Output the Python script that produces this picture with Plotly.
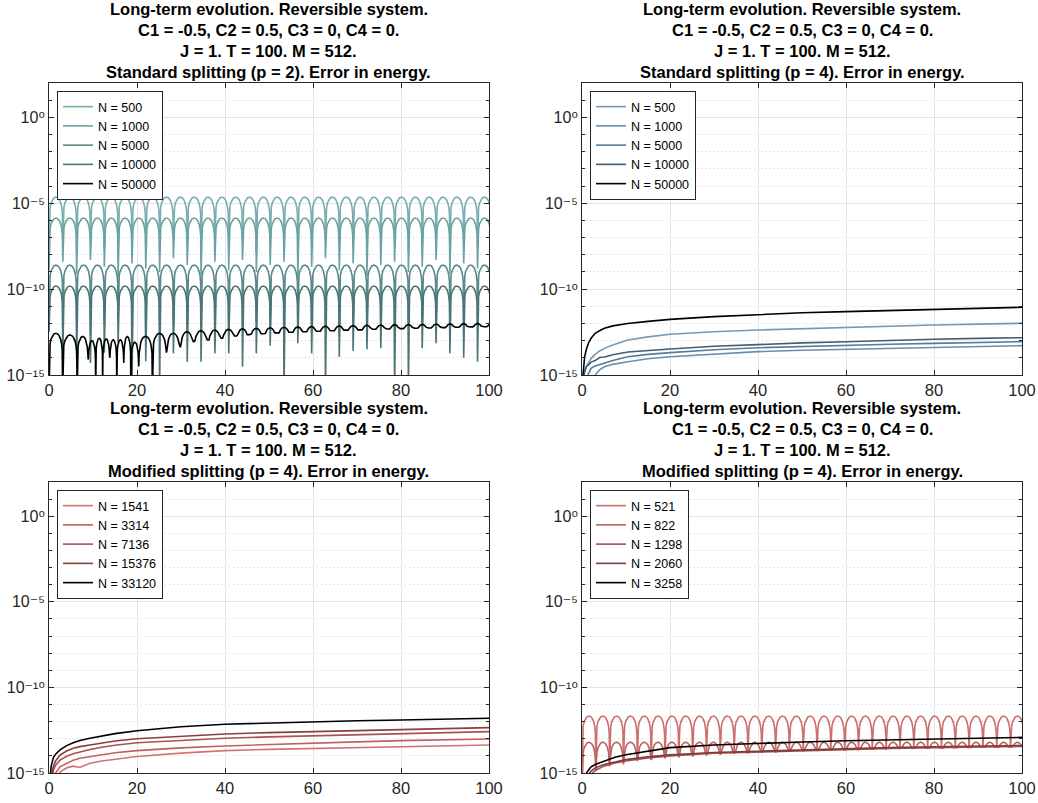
import plotly.graph_objects as go

# ------------------------------------------------------------------ data
# times of the (near-zero) troughs of the oscillating error curves
TROUGH_T = [0.00, 3.14, 6.28, 9.42, 12.57, 15.71, 18.85, 21.99, 25.13, 28.27,
            31.42, 34.56, 37.70, 40.84, 43.98, 47.12, 50.27, 53.41, 56.55, 59.69,
            62.83, 65.97, 69.12, 72.26, 75.40, 78.54, 81.68, 84.82, 87.96, 91.11,
            94.25, 97.39, 100.53]
# shape of one arch (fraction of the half period, decades below the arch top)
ARCH_FRAC = [0.03, 0.08, 0.15, 0.25, 0.35, 0.50, 0.65, 0.75, 0.85, 0.92, 0.97]
ARCH_DROP = [-1.0, -0.6, -0.34, -0.15, -0.05, 0.0, -0.05, -0.15, -0.34, -0.6, -1.0]

# ---- panel 1: standard splitting p = 2 (log10 of the error)
P1_LABELS = ["N = 500", "N = 1000", "N = 5000", "N = 10000", "N = 50000"]
P1_PEAK = [-4.64, -5.86, -8.60, -9.82]
P1_TROUGH_500 = [-7.7, -7.3, -7.9, -7.1, -7.6, -8.2, -7.2, -7.5, -7.8, -7.0, -7.4,
                 -8.0, -7.3, -7.6, -7.1, -7.9, -7.4, -7.2, -8.3, -7.5, -7.0, -7.7,
                 -7.3, -8.1, -7.4, -7.2, -7.8, -7.5, -7.1, -7.9, -7.3, -7.6, -7.4]
P1_TROUGH_1000 = [-8.9, -8.4, -9.1, -8.3, -8.7, -9.3, -8.5, -8.8, -9.0, -8.2, -8.6,
                  -9.2, -8.4, -8.9, -8.3, -9.0, -8.6, -8.4, -9.4, -8.7, -8.2, -8.9,
                  -8.5, -9.2, -8.6, -8.4, -9.0, -8.7, -8.3, -9.1, -8.5, -8.8, -8.6]
P1_TROUGH_5000 = [-11.6, -12.2, -11.8, -12.6, -12.0, -11.7, -12.4, -12.9, -11.9, -12.1,
                  -12.5, -11.8, -12.3, -12.7, -12.0, -11.9, -12.4, -12.2, -11.7, -12.6,
                  -12.1, -12.8, -11.9, -12.3, -12.0, -12.5, -11.8, -12.2, -12.6, -11.9,
                  -12.4, -12.1, -12.3]
P1_TROUGH_10000 = [-12.5, -13.93, -14.1, -14.3, -13.7, -13.15, -16.0, -14.2, -16.0, -13.74,
                   -14.23, -14.23, -13.74, -13.74, -14.52, -13.74, -13.3, -16.0, -13.15,
                   -13.74, -16.0, -13.93, -13.6, -13.5, -13.44, -16.0, -16.0, -13.44,
                   -13.15, -13.74, -14.0, -14.23, -14.0]
P1_BLK_TROUGH_T = [0.0, 3.1, 6.4, 8.9, 10.6, 12.2, 13.8, 15.4, 17.0, 18.6, 20.4, 23.5,
                   26.7, 29.8, 32.9, 36.1, 39.2, 42.4, 45.5, 48.7, 51.8, 55.0, 58.1,
                   61.2, 64.4, 67.5, 70.7, 73.8, 77.0, 80.1, 83.3, 86.4, 89.6, 92.7,
                   95.8, 99.0, 102.1]
P1_BLK_TROUGH_V = [-16.0, -16.0, -16.0, -14.1, -16.0, -16.0, -14.0, -16.0, -14.3, -16.0,
                   -14.5, -16.0, -13.7, -13.35, -13.06, -12.96, -12.86, -12.73, -12.66,
                   -12.6, -12.55, -12.51, -12.48, -12.45, -12.42, -12.39, -12.37, -12.34,
                   -12.32, -12.3, -12.28, -12.26, -12.24, -12.22, -12.2, -12.19, -12.18]
P1_BLK_PEAK_V = [-12.57, -12.67, -12.76, -13.0, -12.86, -12.9, -12.95, -12.95, -12.76,
                 -13.1, -12.75, -12.57, -12.57, -12.48, -12.42, -12.38, -12.34, -12.31,
                 -12.28, -12.25, -12.22, -12.2, -12.18, -12.16, -12.14, -12.12, -12.1,
                 -12.09, -12.07, -12.06, -12.05, -12.03, -12.02, -12.01, -12.0, -11.99]

# ---- panel 2: standard splitting p = 4
P2_LABELS = ["N = 500", "N = 1000", "N = 5000", "N = 10000", "N = 50000"]
P2_T = [0.05, 0.3, 0.6, 1.0, 1.5, 2.1, 3.0, 4.0, 5.1, 7.0, 10.4, 15, 20, 30, 40, 50,
        60, 70, 80, 90, 100]
P2_500 = [-16.0, -15.3, -14.8, -14.5, -14.25, -14.03, -13.8, -13.6, -13.45, -13.25,
          -12.96, -12.78, -12.63, -12.48, -12.38, -12.3, -12.22, -12.15, -12.09, -12.04,
          -11.99]
P2_1000 = [-16.0, -16.0, -16.0, -16.0, -15.8, -16.0, -15.0, -14.7, -14.52, -14.38,
           -14.23, -14.05, -13.94, -13.77, -13.64, -13.56, -13.5, -13.44, -13.39, -13.34,
           -13.29]
P2_5000 = [-16.0, -16.0, -15.6, -15.2, -14.9, -14.6, -14.48, -14.4, -14.32, -14.15,
           -13.94, -13.8, -13.7, -13.53, -13.41, -13.33, -13.26, -13.21, -13.16, -13.11,
           -13.06]
P2_10000 = [-16.0, -15.2, -14.8, -14.52, -14.4, -14.25, -14.16, -13.98, -13.95, -13.82,
            -13.66, -13.56, -13.49, -13.33, -13.21, -13.13, -13.06, -12.98, -12.92,
            -12.87, -12.83]
P2_50000 = [-15.5, -14.5, -13.94, -13.5, -13.12, -12.85, -12.57, -12.42, -12.28, -12.14,
            -12.0, -11.88, -11.76, -11.6, -11.47, -11.38, -11.31, -11.24, -11.18, -11.12,
            -11.06]

# ---- panel 3: modified splitting p = 4
P3_LABELS = ["N = 1541", "N = 3314", "N = 7136", "N = 15376", "N = 33120"]
P3_T = [0.2, 0.5, 1, 1.5, 2.5, 4, 5.5, 7, 9.3, 12, 15, 20, 30, 40, 50, 60, 70, 80, 90, 100]
P3_1541 = [-16.0, -16.0, -16.0, -15.6, -14.95, -14.7, -14.6, -14.68, -14.43, -14.3, -14.2,
           -14.04, -13.84, -13.69, -13.62, -13.56, -13.51, -13.46, -13.41, -13.36]
P3_3314 = [-16.0, -16.0, -15.5, -15.0, -14.64, -14.42, -14.25, -14.14, -14.04, -13.92,
           -13.82, -13.69, -13.53, -13.42, -13.33, -13.26, -13.18, -13.11, -13.06, -13.01]
P3_7136 = [-16.0, -15.8, -14.85, -14.55, -14.25, -14.02, -13.87, -13.76, -13.63, -13.5,
           -13.38, -13.23, -13.08, -12.97, -12.89, -12.83, -12.77, -12.72, -12.65, -12.58]
P3_15376 = [-16.0, -15.3, -14.6, -14.3, -13.95, -13.72, -13.56, -13.46, -13.36, -13.24,
            -13.13, -13.0, -12.84, -12.72, -12.64, -12.58, -12.51, -12.45, -12.4, -12.35]
P3_33120 = [-15.5, -14.6, -14.1, -13.9, -13.65, -13.4, -13.23, -13.1, -12.97, -12.83,
            -12.7, -12.53, -12.3, -12.15, -12.07, -12.0, -11.95, -11.9, -11.85, -11.8]

# ---- panel 4: modified splitting p = 4
P4_LABELS = ["N = 521", "N = 822", "N = 1298", "N = 2060", "N = 3258"]
P4_PEAK = [-11.67, -13.2]
P4_TROUGH_521 = [-16.0, -14.8, -14.6, -14.5, -14.3, -14.25, -14.1, -14.05, -13.95, -13.9,
                 -13.9, -13.8, -13.85, -13.75, -13.8, -13.7, -13.72, -13.68, -13.66,
                 -13.7, -13.62, -13.6, -13.64, -13.58, -13.56, -13.6, -13.54, -13.52,
                 -13.55, -13.5, -13.48, -13.5, -13.46]
P4_TROUGH_822 = [-16.0, -14.9, -14.6, -14.45, -14.3, -14.2, -14.1, -14.05, -14.0, -13.95,
                 -13.9, -13.85, -13.82, -13.78, -13.75, -13.72, -13.7, -13.68, -13.66,
                 -13.64, -13.62, -13.6, -13.58, -13.57, -13.56, -13.54, -13.53, -13.52,
                 -13.51, -13.5, -13.49, -13.48, -13.47]
P4_T = [0.3, 1, 2, 3, 5, 7.5, 10, 15, 20, 30, 40, 50, 60, 70, 80, 90, 100]
P4_1298 = [-16.0, -15.6, -15.1, -14.85, -14.6, -14.42, -14.3, -14.12, -14.0, -13.85,
           -13.77, -13.69, -13.63, -13.57, -13.52, -13.48, -13.45]
P4_2060 = [-16.0, -15.3, -14.9, -14.7, -14.5, -14.35, -14.22, -14.06, -13.94, -13.8,
           -13.72, -13.64, -13.58, -13.52, -13.47, -13.43, -13.39]
P4_3258 = [-15.6, -15.0, -14.65, -14.5, -14.32, -14.08, -13.93, -13.72, -13.52, -13.36,
           -13.26, -13.19, -13.12, -13.07, -13.02, -12.97, -12.92]

X_TICKS = [0, 20, 40, 60, 80, 100]
Y_TICK_EXP = [0, -5, -10, -15]
Y_TICK_TEXT = ["10\u2070", "10\u207b\u2075", "10\u207b\u00b9\u2070", "10\u207b\u00b9\u2075"]
Y_MINOR_EXP = [2, 1, -1, -2, -3, -4, -6, -7, -8, -9, -11, -12, -13, -14]

TITLE_LINES = ["Long-term evolution. Reversible system.",
               "C1 = -0.5, C2 = 0.5, C3 = 0, C4 = 0.",
               "J = 1. T = 100. M = 512."]
SUBTITLES = ["Standard splitting (p = 2). Error in energy.",
             "Standard splitting (p = 4). Error in energy.",
             "Modified splitting (p = 4). Error in energy.",
             "Modified splitting (p = 4). Error in energy."]

TEAL = ["#78aeb0", "#6aa2a4", "#588a8c", "#4a7476", "#000000"]
BLUE = ["#7598b6", "#6a8fae", "#587c98", "#415d74", "#000000"]
RED1 = ["#d27474", "#c06060", "#a85252", "#8a3f3f", "#000000"]
RED2 = ["#cc6e6e", "#bb6262", "#a45050", "#7e3c3c", "#000000"]


# ------------------------------------------------------------------ helpers
def arch_series(trough_t, trough_v, peak_v):
    ts, vs = [], []
    for i in range(len(trough_t) - 1):
        t0, t1 = trough_t[i], trough_t[i + 1]
        pk = peak_v[i] if isinstance(peak_v, list) else peak_v
        ts.append(t0)
        vs.append(trough_v[i])
        for f, d in zip(ARCH_FRAC, ARCH_DROP):
            floor = trough_v[i] if f < 0.5 else trough_v[i + 1]
            ts.append(t0 + f * (t1 - t0))
            vs.append(max(pk + d, floor))
    ts.append(trough_t[-1])
    vs.append(trough_v[-1])
    return ts, [10 ** v for v in vs]


def pow10(vals):
    return [10 ** v for v in vals]


W, H = 1038, 803
PANELS = [  # left, right, top, bottom in pixels
    (49, 489, 83, 375),
    (582, 1022, 83, 375),
    (49, 489, 482, 773),
    (582, 1022, 482, 773),
]
AXCOL = "#262626"
LW = 1.6
FONT = "Liberation Sans, Arial, DejaVu Sans, sans-serif"

fig = go.Figure()


def add(idx, x, y, name, color):
    sfx = "" if idx == 0 else str(idx + 1)
    fig.add_trace(go.Scatter(
        x=x, y=y, mode="lines", name=name,
        line=dict(color=color, width=LW),
        xaxis="x" + sfx, yaxis="y" + sfx,
        legend="legend" + sfx, showlegend=True,
    ))


# panel 1
for k, tr in enumerate([P1_TROUGH_500, P1_TROUGH_1000, P1_TROUGH_5000, P1_TROUGH_10000]):
    tx, ty = arch_series(TROUGH_T, tr, P1_PEAK[k])
    add(0, tx, ty, P1_LABELS[k], TEAL[k])
tx, ty = arch_series(P1_BLK_TROUGH_T, P1_BLK_TROUGH_V, P1_BLK_PEAK_V)
add(0, tx, ty, P1_LABELS[4], TEAL[4])

# panel 2
for k, s in enumerate([P2_500, P2_1000, P2_5000, P2_10000, P2_50000]):
    add(1, P2_T, pow10(s), P2_LABELS[k], BLUE[k])

# panel 3
for k, s in enumerate([P3_1541, P3_3314, P3_7136, P3_15376, P3_33120]):
    add(2, P3_T, pow10(s), P3_LABELS[k], RED1[k])

# panel 4
tx, ty = arch_series(TROUGH_T, P4_TROUGH_521, P4_PEAK[0])
add(3, tx, ty, P4_LABELS[0], RED2[0])
tx, ty = arch_series(TROUGH_T, P4_TROUGH_822, P4_PEAK[1])
add(3, tx, ty, P4_LABELS[1], RED2[1])
for k, s in zip([2, 3, 4], [P4_1298, P4_2060, P4_3258]):
    add(3, P4_T, pow10(s), P4_LABELS[k], RED2[k])

layout = dict(
    width=W, height=H, margin=dict(l=0, r=0, t=0, b=0, autoexpand=False),
    paper_bgcolor="white", plot_bgcolor="white",
    font=dict(family=FONT, color=AXCOL, size=16),
    annotations=[],
)

ytickvals = [10.0 ** e for e in Y_TICK_EXP]
yminor = [10.0 ** e for e in Y_MINOR_EXP]

for i, (l, r, t, b) in enumerate(PANELS):
    sfx = "" if i == 0 else str(i + 1)
    xd = [l / W, r / W]
    yd = [1 - b / H, 1 - t / H]
    layout["xaxis" + sfx] = dict(
        domain=xd, anchor="y" + sfx, range=[0, 100], automargin=False,
        tickmode="array", tickvals=X_TICKS,
        showline=True, linecolor=AXCOL, linewidth=1, mirror="allticks",
        ticks="inside", ticklen=5, tickcolor=AXCOL,
        showgrid=True, gridcolor="#e3e3e3", gridwidth=1,
        zeroline=False, tickfont=dict(family=FONT, size=16.5, color=AXCOL),
    )
    layout["yaxis" + sfx] = dict(
        domain=yd, anchor="x" + sfx, type="log", range=[-15, 2], automargin=False,
        tickmode="array", tickvals=ytickvals, ticktext=Y_TICK_TEXT,
        showline=True, linecolor=AXCOL, linewidth=1, mirror="allticks",
        ticks="inside", ticklen=5, tickcolor=AXCOL,
        showgrid=True, gridcolor="#e3e3e3", gridwidth=1,
        zeroline=False, tickfont=dict(family=FONT, size=16, color=AXCOL),
        minor=dict(tickmode="array", tickvals=yminor, ticks="inside", ticklen=3,
                   tickcolor=AXCOL, showgrid=True, gridcolor="#cfcfcf",
                   griddash="1px,3px", gridwidth=1),
    )
    layout["legend" + sfx] = dict(
        x=(l + 8) / W, y=1 - (t + 8) / H, xanchor="left", yanchor="top",
        bgcolor="white", bordercolor=AXCOL, borderwidth=1,
        font=dict(family=FONT, size=12.5, color="#000000"),
        tracegroupgap=0, itemwidth=30,
    )
    cx = (l + r) / 2 / W
    lines = TITLE_LINES + [SUBTITLES[i]]
    for k, txt in enumerate(lines):
        cy = t - 11.5 - (3 - k) * 20.8
        layout["annotations"].append(dict(
            text=txt, x=cx, y=1 - cy / H, xref="paper", yref="paper",
            xanchor="center", yanchor="middle", showarrow=False,
            font=dict(family=FONT, size=16.5, color="#000000", weight="bold"),
        ))

fig.update_layout(**layout)
fig.write_html("out.html",
               config={"displayModeBar": False},
               post_script="document.body.style.margin='0';document.body.style.padding='0';")
